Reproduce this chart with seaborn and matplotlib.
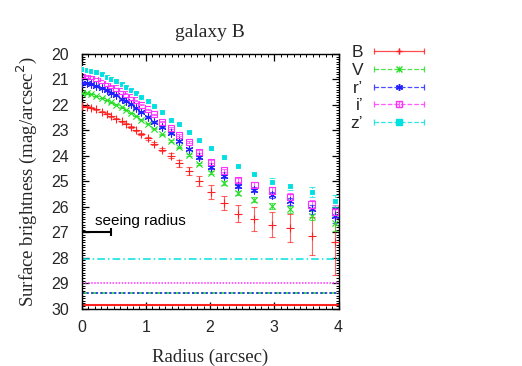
import numpy as np
import pandas as pd
import matplotlib
matplotlib.use("Agg")
import matplotlib.pyplot as plt
import seaborn as sns
from matplotlib.lines import Line2D
from matplotlib.legend_handler import HandlerBase
from matplotlib.ticker import MultipleLocator

# ---------------- data ----------------
radius = [0.00, 0.08, 0.15, 0.23, 0.31, 0.39, 0.46, 0.54, 0.62, 0.69, 0.77, 0.85, 0.93, 1.03,
          1.13, 1.25, 1.39, 1.52, 1.67, 1.83, 2.02, 2.22, 2.44, 2.69, 2.96, 3.25, 3.58, 3.94]

mag_B = [22.06, 22.08, 22.11, 22.18, 22.26, 22.35, 22.44, 22.54, 22.65, 22.75, 22.87, 23.00, 23.15, 23.32,
         23.53, 23.76, 24.00, 24.30, 24.60, 25.00, 25.42, 25.85, 26.27, 26.49, 26.70, 26.85, 27.15, 27.37]
err_B = [0.02, 0.02, 0.02, 0.02, 0.02, 0.02, 0.02, 0.02, 0.02, 0.02, 0.03, 0.03, 0.04, 0.05,
         0.06, 0.07, 0.10, 0.13, 0.16, 0.20, 0.26, 0.29, 0.32, 0.46, 0.49, 0.55, 0.75, 1.30]

mag_V = [21.53, 21.55, 21.58, 21.65, 21.72, 21.81, 21.90, 21.99, 22.10, 22.20, 22.31, 22.44, 22.58, 22.75,
         22.93, 23.15, 23.41, 23.67, 23.97, 24.32, 24.67, 25.06, 25.45, 25.72, 25.97, 26.10, 26.35, 26.65]
err_V = [0.01, 0.01, 0.01, 0.01, 0.01, 0.01, 0.01, 0.01, 0.01, 0.01, 0.01, 0.01, 0.01, 0.02,
         0.02, 0.02, 0.03, 0.03, 0.04, 0.05, 0.06, 0.07, 0.08, 0.10, 0.12, 0.14, 0.18, 0.30]

mag_r = [21.12, 21.14, 21.17, 21.25, 21.33, 21.43, 21.52, 21.63, 21.75, 21.85, 21.98, 22.12, 22.28, 22.46,
         22.66, 22.87, 23.12, 23.41, 23.74, 24.06, 24.45, 24.80, 25.19, 25.33, 25.55, 25.79, 26.10, 26.35]
err_r = [0.01, 0.01, 0.01, 0.01, 0.01, 0.01, 0.01, 0.01, 0.01, 0.01, 0.01, 0.01, 0.01, 0.02,
         0.02, 0.02, 0.03, 0.03, 0.04, 0.05, 0.06, 0.07, 0.08, 0.10, 0.12, 0.14, 0.18, 0.28]

mag_i = [20.82, 20.84, 20.87, 20.95, 21.03, 21.13, 21.23, 21.33, 21.45, 21.56, 21.69, 21.82, 21.99, 22.17,
         22.37, 22.66, 22.90, 23.19, 23.47, 23.84, 24.23, 24.58, 24.94, 25.14, 25.36, 25.61, 25.91, 26.20]
err_i = [0.01, 0.01, 0.01, 0.01, 0.01, 0.01, 0.01, 0.01, 0.01, 0.01, 0.01, 0.01, 0.01, 0.02,
         0.02, 0.02, 0.03, 0.03, 0.04, 0.05, 0.06, 0.07, 0.08, 0.10, 0.12, 0.14, 0.18, 0.25]

mag_z = [20.60, 20.62, 20.65, 20.72, 20.80, 20.89, 20.98, 21.08, 21.19, 21.29, 21.41, 21.54, 21.69, 21.86,
         22.05, 22.27, 22.59, 22.76, 23.06, 23.39, 23.71, 24.06, 24.42, 24.71, 25.01, 25.20, 25.42, 25.79]
err_z = [0.01, 0.01, 0.01, 0.01, 0.01, 0.01, 0.01, 0.01, 0.01, 0.01, 0.01, 0.01, 0.01, 0.02,
         0.02, 0.02, 0.03, 0.03, 0.04, 0.05, 0.06, 0.07, 0.08, 0.10, 0.12, 0.14, 0.18, 0.24]

band_names = ["B", "V", "r\u2019", "i\u2019", "z\u2019"]
sky_limits = [29.87, 29.40, 29.40, 28.99, 28.04]

seeing_radius = 0.45
seeing_level = 27.0

# ---------------- style ----------------
sns.set_theme(style="ticks")
plt.rcParams["font.family"] = ["Liberation Sans", "DejaVu Sans"]
plt.rcParams["xtick.direction"] = "in"
plt.rcParams["ytick.direction"] = "in"

colors = ["#ff2020", "#22dd22", "#2020ff", "#ff30ff", "#00e0e0"]
markers = ["+", "x", (6, 2, 0), "s", "s"]
fill = [True, True, True, False, True]
linestyles = ["-", (0, (4, 2)), (0, (1.5, 1.5)), (0, (1, 1)), (0, (5, 2, 1, 2))]
sizes = [28, 20, 26, 20, 20]

mags = [mag_B, mag_V, mag_r, mag_i, mag_z]
errs = [err_B, err_V, err_r, err_i, err_z]

fig = plt.figure(figsize=(5.22, 3.66), dpi=100)
ax = fig.add_axes([81.7 / 522, 1 - 308.5 / 366, (338.5 - 81.7) / 522, (308.5 - 54) / 366])

for k in range(5):
    df = pd.DataFrame({"r": radius, "m": mags[k], "e": errs[k]})
    ax.errorbar(df["r"], df["m"], yerr=df["e"], fmt="none", ecolor=colors[k],
                elinewidth=0.8, capsize=2.0, capthick=0.8, alpha=0.7, zorder=2)
    if fill[k]:
        sns.scatterplot(data=df, x="r", y="m", ax=ax, marker=markers[k], s=sizes[k],
                        color=colors[k], linewidth=0.8, zorder=3, legend=False)
    else:
        sns.scatterplot(data=df, x="r", y="m", ax=ax, marker=markers[k], s=sizes[k],
                        facecolor="none", edgecolor=colors[k], linewidth=0.8, zorder=3, legend=False)

# sky limits
for k in range(5):
    ax.axhline(sky_limits[k], color=colors[k], linestyle=linestyles[k],
               linewidth=1.5 if k == 0 else 1.1, zorder=1)

# seeing radius
ax.errorbar([0.0], [seeing_level], xerr=[seeing_radius], fmt="none", ecolor="black",
            elinewidth=1.5, capsize=3, capthick=1.5, zorder=4)
ax.text(0.2, seeing_level - 0.45, "seeing radius", fontsize=11, va="center", ha="left",
        color="black")

ax.set_xlim(0, 4)
ax.set_ylim(30, 20)
ax.set_xticks([0, 1, 2, 3, 4])
ax.set_yticks(list(range(20, 31)))
ax.xaxis.set_minor_locator(MultipleLocator(0.1))
ax.yaxis.set_minor_locator(MultipleLocator(0.1))
ax.tick_params(which="both", direction="in", top=True, right=True, color="black")
ax.tick_params(which="major", length=5, width=0.9, labelsize=11.5)
ax.tick_params(axis="x", which="major", pad=8)
ax.tick_params(axis="y", which="major", pad=9)
ax.tick_params(which="minor", length=2.5, width=0.7)
for sp in ax.spines.values():
    sp.set_visible(True)
    sp.set_color("black")
    sp.set_linewidth(1.0)

serif = ["Liberation Serif", "DejaVu Serif"]
ax.set_title("galaxy B", fontsize=14, family=serif, pad=12)
ax.set_xlabel("Radius (arcsec)", fontsize=13.5, family=serif, labelpad=10)
ax.set_ylabel("Surface brightness (mag/arcsec$^2$)", fontsize=13.5, family=serif, labelpad=9)


# ---------------- legend ----------------
class ErrHandler(HandlerBase):
    def create_artists(self, legend, orig, xdescent, ydescent, width, height, fontsize, trans):
        y = height / 2 - ydescent
        x0, x1 = -xdescent, width - xdescent
        xm = (x0 + x1) / 2
        c = orig.get_color()
        line = Line2D([x0, x1], [y, y], color=c, linestyle=orig.get_linestyle(),
                      linewidth=0.9, alpha=0.8)
        caps = Line2D([x0, xm, x1], [y, y, y], color=c, linestyle="none",
                      marker="|", markersize=5, markeredgewidth=0.9, alpha=0.8)
        mk = Line2D([xm], [y], linestyle="none", marker=orig.get_marker(),
                    markersize=orig.get_markersize(), markeredgecolor=c,
                    markerfacecolor=orig.get_markerfacecolor(), markeredgewidth=1.0)
        arts = [line, caps, mk]
        for a in arts:
            a.set_transform(trans)
        return arts


handles = []
for k in range(5):
    h = Line2D([], [], color=colors[k], linestyle=linestyles[k], marker=markers[k],
               markersize=5, markerfacecolor=colors[k] if fill[k] else "none")
    handles.append(h)

leg = fig.legend(handles, band_names, loc="upper right",
                 bbox_to_anchor=(424 / 522, 1 - 45 / 366), frameon=False,
                 markerfirst=False, fontsize=12.5, handlelength=2.9,
                 handletextpad=0.6, labelspacing=0.15, borderpad=0, borderaxespad=0,
                 handler_map={Line2D: ErrHandler()})

fig.savefig("out.png", dpi=100)
